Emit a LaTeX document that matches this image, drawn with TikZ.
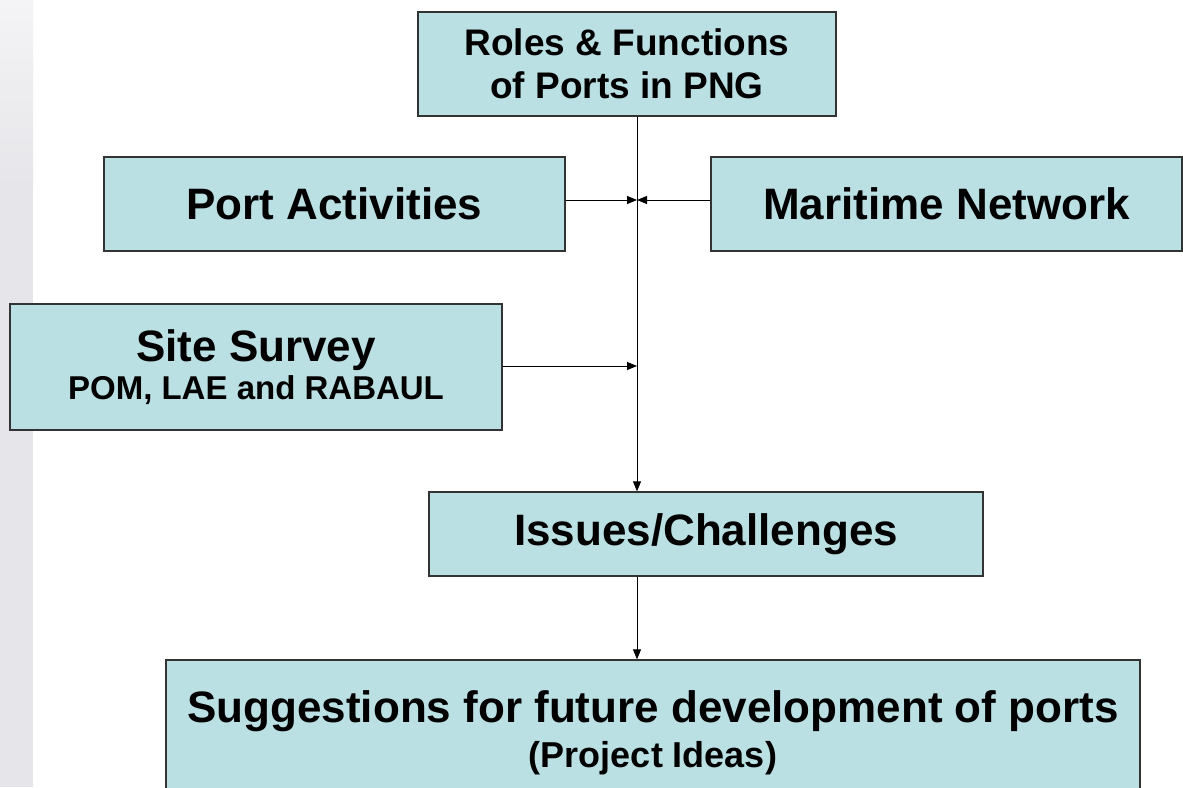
\documentclass[tikz,border=0pt]{standalone}
\usepackage{fontspec}
\setmainfont{Liberation Sans}
\usetikzlibrary{arrows.meta}
\definecolor{boxfill}{HTML}{BBE0E3}
\definecolor{boxline}{HTML}{333333}
\definecolor{stripgrey}{HTML}{E6E6EA}
\definecolor{striplight}{HTML}{F4F4F6}
\tikzset{
  flowbox/.style={draw=boxline, line width=1.3pt, fill=boxfill, inner sep=0pt,
    align=center, font=\bfseries},
  link/.style={draw=black, line width=0.9pt, -{Triangle[length=10pt,width=8pt]}},
  big/.style={font=\bfseries\fontsize{44}{44}\selectfont},
}
\begin{document}
\begin{tikzpicture}[x=1pt,y=-1pt]
  \useasboundingbox (0,0) rectangle (1183,787);
  \clip (0,0) rectangle (1183,787);
  \fill[white] (0,0) rectangle (1183,787);
  % soft grey margin on the left
  \shade[top color=striplight, bottom color=stripgrey] (0,0) rectangle (33,185);
  \fill[stripgrey] (0,185) rectangle (33,787);

  % boxes
  \node[flowbox, font=\bfseries\fontsize{37}{43}\selectfont,
        minimum width=418pt, minimum height=104pt] (roles) at (627,64)
    {Roles \& Functions\\of Ports in PNG};
  \node[flowbox, big, minimum width=461pt, minimum height=94pt] (port) at (334.5,204)
    {Port Activities};
  \node[flowbox, big, minimum width=471pt, minimum height=94pt] (mar) at (946.5,204)
    {Maritime Network};
  \node[flowbox, font=\bfseries\fontsize{44}{38}\selectfont,
        minimum width=492pt, minimum height=126pt] (site) at (256,367)
    {Site Survey\\\fontsize{33}{38}\selectfont POM, LAE and RABAUL};
  \node[flowbox, big, minimum width=554pt, minimum height=84pt] (issues) at (706,534)
    {Issues/Challenges};
  \node[flowbox, font=\bfseries\fontsize{44}{45}\selectfont,
        minimum width=974pt, minimum height=146pt] (sugg) at (653,733)
    {Suggestions for future development of ports\\\fontsize{36}{45}\selectfont (Project Ideas)};

  % junction points on the main vertical line
  \coordinate (spine) at (637,0);
  \coordinate (jport) at (637,200);
  \coordinate (jsite) at (637,366);

  % connectors
  \draw[link] (roles.south -| spine) -- (issues.north -| spine);
  \draw[link] (port.east |- jport) -- (jport);
  \draw[link] (mar.west |- jport) -- (jport);
  \draw[link] (site.east |- jsite) -- (jsite);
  \draw[link] (issues.south -| spine) -- (sugg.north -| spine);
\end{tikzpicture}
\end{document}
